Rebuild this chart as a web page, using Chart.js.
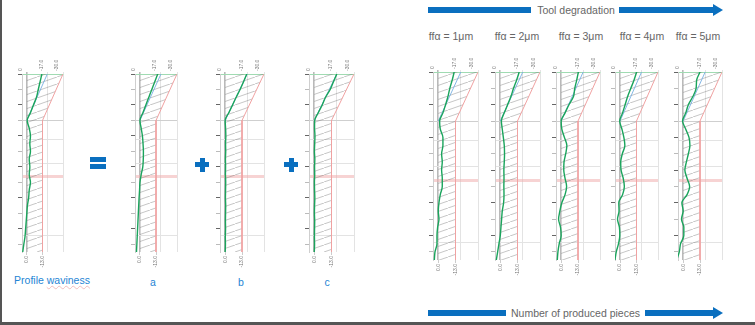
<!DOCTYPE html>
<html>
<head>
<meta charset="utf-8">
<script src="https://cdn.jsdelivr.net/npm/chart.js@4.4.1/dist/chart.umd.min.js"></script>
<style>
  body { margin: 0; width: 755px; height: 325px; position: relative; overflow: hidden; background: #fff;
         font-family: "Liberation Sans", Arial, sans-serif; }
  .edge-left { position: absolute; left: 0; top: 0; width: 2px; height: 325px; background: #555; }
  .edge-bottom { position: absolute; left: 0; top: 322px; width: 755px; height: 3px; background: #555; }
  .box { position: absolute; }
  .txt { position: absolute; font-size: 10.5px; line-height: 12px; color: #666; white-space: nowrap; text-align: center; }
  .blue { color: #2584d4; }
  .bar { position: absolute; background: #0a6fbf; }
  .head { position: absolute; width: 0; height: 0; border-top: 6px solid transparent;
          border-bottom: 6px solid transparent; border-left: 10px solid #0a6fbf; }
  .squiggle { text-decoration: underline wavy rgba(235, 150, 150, 0.6); text-decoration-thickness: 1px; }
</style>
</head>
<body>
<div class="edge-left"></div>
<div class="edge-bottom"></div>

<!-- tool degradation arrow -->
<div class="bar" style="left:428px;top:7px;width:103px;height:6px"></div>
<div class="txt" style="left:530px;top:4px;width:92px">Tool degradation</div>
<div class="bar" style="left:619px;top:7px;width:95px;height:6px"></div>
<div class="head" style="left:713px;top:4px"></div>

<!-- produced pieces arrow -->
<div class="bar" style="left:428px;top:310px;width:78px;height:6px"></div>
<div class="txt" style="left:505px;top:307px;width:141px">Number of produced pieces</div>
<div class="bar" style="left:645px;top:310px;width:69px;height:6px"></div>
<div class="head" style="left:713px;top:307px"></div>

<!-- = and + -->
<div class="bar" style="left:90px;top:157px;width:16px;height:5px"></div>
<div class="bar" style="left:90px;top:164px;width:16px;height:5px"></div>
<div class="bar" style="left:195px;top:162px;width:14px;height:5px"></div>
<div class="bar" style="left:199.5px;top:157.5px;width:5px;height:14px"></div>
<div class="bar" style="left:284px;top:162px;width:14px;height:5px"></div>
<div class="bar" style="left:288.5px;top:157.5px;width:5px;height:14px"></div>

<div id="labels"></div>
<div id="charts"></div>

<script>
// depth stations along the flank, tip (0) to root (23)
const stations = [0, 1, 2, 3, 4, 5, 6, 7, 8, 9, 10, 11, 12, 13, 14, 15, 16, 17, 18, 19, 20, 21, 22, 23];

// measured profile deviation at each station
const profileWaviness = [12.5, 11, 9.5, 8, 5.5, 3, 0.3, 2, 3, 2.5, 3, 2, 2.5, 2, 3, 2, 1.5, 0.5, 0, -0.5, -1, -1.5, -2.5, -3.4];
const partA = [14.4, 12, 9.6, 7.2, 4.8, 2.4, 0, 1, 2, 2.5, 2.8, 2.7, 2.3, 1, 0, -0.3, -0.7, -1, -1.3, -1.6, -1.9, -2.2, -2.5, -2.8];
const partB = [16.7, 14.2, 11.5, 8.5, 5.7, 2.8, 0, 0.3, 0.5, 0.3, 0.4, 0.2, 0.3, 0.2, 0.4, 0.3, 0.2, 0.4, 0.3, 0.2, 0.3, 0.1, 0.2, 0];
const partC = [17, 14.5, 12, 8.5, 6, 3, 0.3, 0.2, 0.5, 0.3, 0.1, 0.4, 0.2, 0.3, 0.1, 0.2, 0.4, 0.2, 0.1, 0.3, 0.2, 0.1, 0.2, 0];
const ffa1 = [12, 10.5, 8.7, 7.3, 5.5, 3.5, 1, 1.5, 3.5, 3.5, 2.5, 3, 2.5, 3, 3, 1.5, 0.5, 0, 0.5, -0.5, -1, -1, -2.5, -3];
const ffa2 = [14.3, 12.3, 10, 8, 5.5, 3, 0.8, 1.5, 2.3, 3, 3.2, 3, 2.7, 2.8, 2.7, 2.8, 2.5, 1.5, 1, 0.5, 0, -1, -2, -3];
const ffa3 = [13.3, 12, 10.5, 9.5, 6, 3, 0, 0.5, 2.5, 4.4, 3.5, 2.2, 2, 3, 4.2, 3, 0.5, -1, -2, -0.5, 0, -1.5, -2.5, -3];
const ffa4 = [13.1, 11, 8.5, 6, 4, 2, -0.3, 1.5, 3, 3.8, 1.8, 0.5, 0.8, 2.5, 3.4, 2, -1, -0.8, -2, -0.5, -0.2, -1.2, -3, -4];
const ffa5 = [13, 10.4, 10, 7.5, 4, 2, -0.5, 2, 4.5, 5.2, 4, 2.5, 1.3, 3, 5, 3, -1, 0, -1.3, 0.5, 0.5, -2, -3, -5];

// tolerance (red) and nominal (blue) lines
const tolX = [30, 13, 13];
const tolY = [0, 6, 23];
const nomX = [17, 0];
const nomY = [0, 6];

// axis ticks
const topTicks = [0, 17, 30];
const topTickLabels = ["0", "-17.0", "-30.0"];
const bottomTicks = [0, 13];
const bottomTickLabels = ["0.0", "-13.0"];
const depthTicks = [0, 2, 4, 6, 8, 10, 12, 14, 16, 18, 20, 22];
const rowLines = [6, 8.4, 11.5, 13.3, 20.9];

const partNames = ["a", "b", "c"];
const ffaNames = ["ffα = 1μm", "ffα = 2μm", "ffα = 3μm", "ffα = 4μm", "ffα = 5μm"];

// where each small chart sits: pixel of 0, pixel of -30, top, bottom
const panels = [
  { dev: profileWaviness, x0: 27, x30: 63, top: 74, bottom: 252 },
  { dev: partA, x0: 140, x30: 177, top: 74, bottom: 252 },
  { dev: partB, x0: 225, x30: 264, top: 74, bottom: 252 },
  { dev: partC, x0: 314, x30: 354, top: 74, bottom: 252 },
  { dev: ffa1, x0: 438, x30: 478, top: 72, bottom: 260 },
  { dev: ffa2, x0: 500, x30: 540, top: 72, bottom: 260 },
  { dev: ffa3, x0: 561, x30: 600, top: 72, bottom: 260 },
  { dev: ffa4, x0: 620, x30: 658, top: 72, bottom: 260 },
  { dev: ffa5, x0: 683, x30: 722, top: 72, bottom: 260 },
];

const YW = 5, TH = 18, BH = 17, RP = 6, XMIN = -4;

function addText(text, cx, top, cls) {
  const d = document.createElement("div");
  d.className = "txt " + (cls || "");
  d.style.left = (cx - 50) + "px";
  d.style.width = "100px";
  d.style.top = top + "px";
  d.innerHTML = text;
  document.getElementById("labels").appendChild(d);
}

addText('Profile <span class="squiggle">waviness</span>', 52, 274, "blue");
[153, 241, 327].forEach((cx, i) => addText(partNames[i], cx, 276, "blue"));
[451, 517, 581, 642, 698].forEach((cx, i) => addText(ffaNames[i], cx, 30, ""));

function hatchFor(ctx) {
  const c = document.createElement("canvas");
  c.width = 20; c.height = 7;
  const g = c.getContext("2d");
  g.strokeStyle = "rgba(105,105,105,0.55)";
  g.lineWidth = 0.7;
  g.beginPath(); g.moveTo(-2, 7.7); g.lineTo(22, -0.7); g.stroke();
  return ctx.createPattern(c, "repeat");
}

const points = (xs, ys) => ys.map((y, i) => ({ x: xs[i], y }));

panels.forEach(p => {
  const s = (p.x30 - p.x0) / 30;
  const cl = p.x0 + XMIN * s;
  const box = document.createElement("div");
  box.className = "box";
  box.style.left = (cl - YW) + "px";
  box.style.top = (p.top - TH) + "px";
  const canvas = document.createElement("canvas");
  canvas.width = Math.round(p.x30 - cl + YW + RP);
  canvas.height = p.bottom - p.top + TH + BH;
  box.appendChild(canvas);
  document.getElementById("charts").appendChild(box);

  new Chart(canvas, {
    type: "line",
    data: {
      datasets: [
        { data: points(p.dev, stations), borderColor: "#1aa45c", borderWidth: 1.4,
          cubicInterpolationMode: "monotone", pointRadius: 0, fill: false },
        { data: points(nomX, nomY), borderColor: "rgba(120,175,225,0.9)", borderWidth: 1, pointRadius: 0, fill: false },
        { data: points(tolX, tolY), borderColor: "#f0a2a2", borderWidth: 1, pointRadius: 0,
          fill: { value: 0 }, backgroundColor: hatchFor(canvas.getContext("2d")) },
      ],
    },
    options: {
      indexAxis: "y",
      responsive: false,
      animation: false,
      events: [],
      layout: { padding: { left: 0, right: RP, top: 0, bottom: 0 } },
      plugins: { legend: { display: false }, tooltip: { enabled: false } },
      scales: {
        x: {
          type: "linear", position: "top", min: XMIN, max: 30,
          afterBuildTicks: sc => { sc.ticks = topTicks.map(v => ({ value: v })); },
          afterFit: sc => { sc.height = TH; },
          ticks: { autoSkip: false, minRotation: 90, maxRotation: 90, padding: 1, color: "#777",
                   font: { size: 5 }, callback: (v, i) => topTickLabels[i] },
          grid: { tickLength: 2,
                  color: c => c.tick && c.tick.value === 0 ? "#b9b9b9" : "#e3e3e3",
                  lineWidth: c => c.tick && c.tick.value === 0 ? 1.6 : 1 },
          border: { color: "rgba(150,215,170,0.9)" },
        },
        xb: {
          type: "linear", position: "bottom", min: XMIN, max: 30,
          afterBuildTicks: sc => { sc.ticks = bottomTicks.map(v => ({ value: v })); },
          afterFit: sc => { sc.height = BH; },
          ticks: { autoSkip: false, minRotation: 90, maxRotation: 90, padding: 1, color: "#777",
                   font: { size: 5 }, callback: (v, i) => bottomTickLabels[i] },
          grid: { drawOnChartArea: false, tickLength: 3, color: "#ccc" },
          border: { display: false },
        },
        y: {
          type: "linear", position: "left", min: 0, max: 23, reverse: true,
          afterBuildTicks: sc => { sc.ticks = depthTicks.map(v => ({ value: v })); },
          afterFit: sc => { sc.width = YW; },
          ticks: { display: false },
          grid: { drawOnChartArea: false, tickLength: 4,
                  tickColor: c => c.index % 2 === 0 ? "#666" : "#bbb" },
          border: { color: "#cfcfcf" },
        },
        yg: {
          type: "linear", position: "left", min: 0, max: 23, reverse: true,
          afterBuildTicks: sc => { sc.ticks = rowLines.map(v => ({ value: v })); },
          afterFit: sc => { sc.width = 0; },
          ticks: { display: false },
          grid: { drawTicks: false,
                  color: c => !c.tick ? "#e3e3e3" : c.tick.value === 13.3 ? "rgba(240,175,175,0.55)" : c.tick.value === 6 ? "#cfcfcf" : "#e3e3e3",
                  lineWidth: c => c.tick && c.tick.value === 13.3 ? 3 : 1 },
          border: { display: false },
        },
      },
    },
  });
});
</script>
</body>
</html>
